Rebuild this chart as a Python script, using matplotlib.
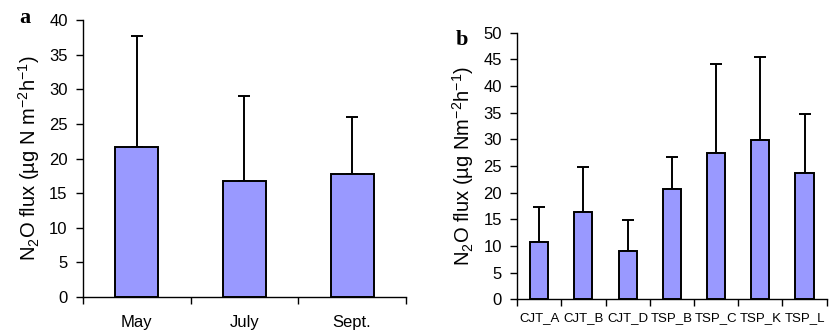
import matplotlib
matplotlib.use("Agg")
import matplotlib.pyplot as plt
import numpy as np

plt.rcParams["font.family"] = ["Liberation Sans", "DejaVu Sans"]

# panel a: seasonal means
months = ["May", "July", "Sept."]
month_flux = [21.6, 16.7, 17.7]
month_err = [16.1, 12.3, 8.3]

# panel b: per site means
sites = ["CJT_A", "CJT_B", "CJT_D", "TSP_B", "TSP_C", "TSP_K", "TSP_L"]
site_flux = [10.8, 16.3, 9.0, 20.6, 27.4, 29.8, 23.6]
site_err = [6.5, 8.6, 5.8, 6.0, 16.8, 15.7, 11.2]

BAR_COLOR = "#9999FF"


def draw_panel(ax, labels, values, errors, ymax, ystep, label_size, bar_w, xpad):
    x = np.arange(len(labels))
    ax.bar(x, values, width=bar_w, color=BAR_COLOR, edgecolor="black", linewidth=1.4, zorder=2)
    ax.errorbar(x, values, yerr=[np.zeros(len(errors)), errors], fmt="none",
                ecolor="black", elinewidth=1.4, capsize=4, capthick=1.4, zorder=1)
    ax.set_xlim(-0.5, len(labels) - 0.5)
    ax.set_ylim(0, ymax)
    ax.set_yticks(np.arange(0, ymax + 1, ystep))
    ax.set_xticks(x)
    ax.set_xticklabels(labels, fontsize=label_size)
    ax.set_xticks(np.arange(len(labels) + 1) - 0.5, minor=True)
    ax.tick_params(axis="x", which="major", length=0, pad=xpad)
    ax.tick_params(axis="x", which="minor", length=5, width=1, direction="out")
    ax.tick_params(axis="y", length=5, width=1, direction="out", labelsize=12, pad=6)
    for side in ("top", "right"):
        ax.spines[side].set_visible(False)
    for side in ("left", "bottom"):
        ax.spines[side].set_linewidth(1)


fig = plt.figure(figsize=(8.3, 3.32), dpi=100)

ax_a = fig.add_axes([0.100, 0.105, 0.389, 0.835])
draw_panel(ax_a, months, month_flux, month_err, 40, 5, 12, 0.4, 13)
ax_a.set_ylabel(r"N$\mathregular{_2}$O flux (µg N m$\mathregular{^{-2}}$h$\mathregular{^{-1}}$)",
                fontsize=14.5, labelpad=5)
fig.text(0.030, 0.945, "a", fontsize=16, fontweight="bold", family="Liberation Serif",
         ha="center", va="center")

ax_b = fig.add_axes([0.623, 0.099, 0.373, 0.802])
draw_panel(ax_b, sites, site_flux, site_err, 50, 5, 9.5, 0.41, 9)
ax_b.set_ylabel(r"N$\mathregular{_2}$O flux (µg Nm$\mathregular{^{-2}}$h$\mathregular{^{-1}}$)",
                fontsize=14.5, labelpad=5)
fig.text(0.556, 0.880, "b", fontsize=16, fontweight="bold", family="Liberation Serif",
         ha="center", va="center")

fig.savefig("out.png", dpi=100)
